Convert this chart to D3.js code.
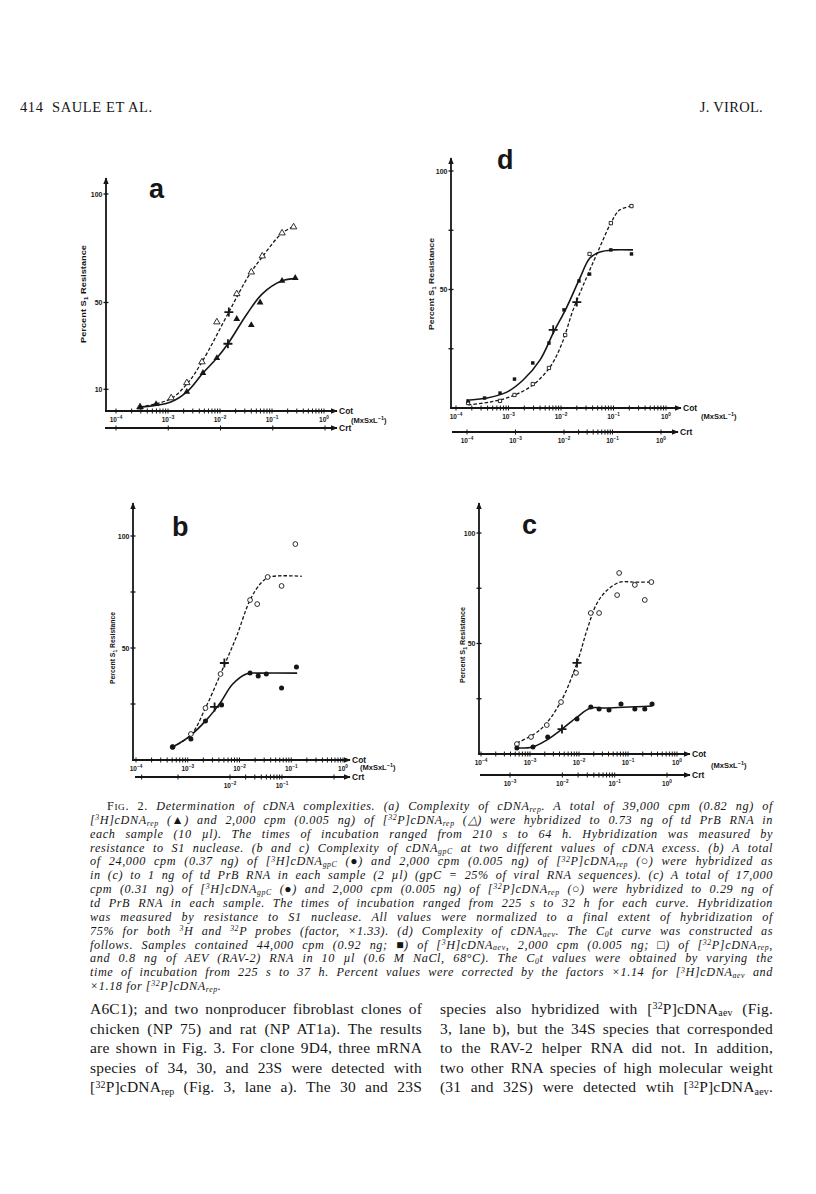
<!DOCTYPE html>
<html>
<head>
<meta charset="utf-8">
<script src="https://cdn.jsdelivr.net/npm/d3@7"></script>
<style>
  body { margin: 0; background: #fff; }
  svg { display: block; }
</style>
</head>
<body>
<svg id="page" width="816" height="1194"></svg>
<script>
// ---- data (Cot in M x s x L^-1, percent S1 resistance) ----
const cotExponents = [-4, -3, -2, -1, 0];

// panel a : [3H]cDNArep (filled triangles) / [32P]cDNArep (open triangles)
const aFilled = [[2.9e-4,1.8],[5.9e-4,3.2],[2.3e-3,8.8],[4.7e-3,17.5],[8.7e-3,24.4],[0.021,42.4],[0.04,39.6],[0.059,50],[0.156,60],[0.28,61.3]];
const aOpen   = [[2.9e-4,1.8],[1.15e-3,6],[2.3e-3,13],[4.5e-3,22.6],[8.7e-3,41],[0.021,54],[0.04,64],[0.065,71.4],[0.156,82],[0.26,84.8]];
const aSolidCurve  = [[2.9e-4,1.8],[1.1e-3,4],[2.3e-3,8.8],[4.7e-3,17.5],[8.7e-3,24.4],[0.0142,31],[0.033,44.7],[0.065,54],[0.156,60],[0.28,61]];
const aDashedCurve = [[2.9e-4,1.8],[1.1e-3,5.5],[2.3e-3,12.4],[4.5e-3,22.6],[0.0148,45.6],[0.035,62],[0.065,71],[0.156,82],[0.26,85]];
const aHalf = [[0.0142,31],[0.0148,45.6]];

// panel d : [3H]cDNAaev (filled squares) / [32P]cDNArep (open squares)
const dFilled = [[1.7e-4,3],[3.5e-4,4.2],[6.9e-4,6.3],[1.3e-3,12.2],[2.9e-3,19],[5.9e-3,27.4],[0.0114,41.4],[0.022,53.6],[0.035,56.5],[0.089,66.7],[0.22,65]];
const dOpen   = [[1.7e-4,2.1],[6.9e-4,3],[1.3e-3,5.5],[2.9e-3,10.1],[5.9e-3,16.9],[0.012,30.8],[0.035,65],[0.089,78],[0.22,85.2]];
const dSolidCurve  = [[1.85e-4,3.4],[3.9e-4,4.2],[9.3e-4,6.7],[1.9e-3,11.8],[4e-3,20.3],[7.1e-3,31.6],[0.0129,42.6],[0.023,54.9],[0.0355,63.3],[0.055,65.8],[0.098,66.7],[0.235,66.7]];
const dDashedCurve = [[1.7e-4,1.3],[4.4e-4,2.5],[1.2e-3,5.1],[2.9e-3,9.7],[6.2e-3,17.3],[0.0105,27.4],[0.017,41.4],[0.031,55.3],[0.055,67.9],[0.089,78],[0.13,83.5],[0.22,85.2]];
const dHalf = [[7.1e-3,33],[0.02,44.7]];

// panel b : [3H]cDNAgpC (filled circles) / [32P]cDNArep (open circles)
const bFilled = [[5.1e-4,5.8],[1.15e-3,9.4],[2.2e-3,17.4],[4.5e-3,24.6],[0.016,38.8],[0.023,37.5],[0.033,38.4],[0.065,32.1],[0.126,41.5]];
const bOpen   = [[5.1e-4,5.8],[1.15e-3,11.6],[2.2e-3,23.2],[4.3e-3,38.4],[0.016,71.4],[0.022,69.6],[0.035,81.7],[0.065,77.7],[0.12,96.4]];
const bSolidCurve  = [[5.1e-4,5.8],[1.1e-3,10.7],[2.3e-3,17.9],[4.2e-3,25.4],[7.4e-3,33.9],[0.0135,38.4],[0.024,38.8],[0.13,38.8]];
const bDashedCurve = [[5.1e-4,5.8],[1.15e-3,11.2],[2.2e-3,23.2],[4.6e-3,40],[8.7e-3,55],[0.016,71.4],[0.026,79],[0.038,81.7],[0.16,82]];
const bHalf = [[3.3e-3,23.7],[5.1e-3,43.3]];

// panel c : [3H]cDNAgpC (filled circles) / [32P]cDNArep (open circles)
const cFilled = [[5.4e-4,2.7],[1.15e-3,3.2],[2.3e-3,7.7],[9.1e-3,15.8],[0.0174,21.3],[0.0257,20.4],[0.041,19.9],[0.072,22.6],[0.138,20.4],[0.22,20.4],[0.31,22.6]];
const cOpen   = [[5.4e-4,4.5],[1.05e-3,7.7],[2.2e-3,13.1],[4.3e-3,23.5],[8.7e-3,36.7],[0.0174,63.8],[0.0257,63.8],[0.06,71.9],[0.066,81.9],[0.138,76.5],[0.22,69.7],[0.3,77.8]];
const cSolidCurve  = [[5.4e-4,2.7],[1.15e-3,3.2],[2.2e-3,6.3],[4.5e-3,11.3],[9.1e-3,16.7],[0.0174,20.8],[0.036,20.8],[0.31,21.7]];
const cDashedCurve = [[5.4e-4,5],[1.6e-3,10.9],[4.1e-3,23],[9.1e-3,41.2],[0.0145,56],[0.023,68],[0.037,74],[0.069,77.8],[0.126,77.8],[0.3,77.8]];
const cHalf = [[4.5e-3,11.3],[9.1e-3,41.2]];

// Crt axis ticks / labels
const crtDense = [2e-2,3e-2,4e-2,5e-2,6e-2,7e-2,8e-2,9e-2];
const crtTicksA = [1e-4,1e-3,1e-2,1e-1,1];
const crtTicksD = [1e-4,1e-3,1e-2,...crtDense,1e-1,1];
const crtTicksB = [2e-4,1e-3,1e-2,...crtDense,1e-1,1];
const crtTicksC = [1e-3,1e-2,...crtDense,1e-1,1];
const crtLabelsA = [];
const crtLabelsD = [-4,-3,-2,-1,0];
const crtLabelsB = [-2,-1];
const crtLabelsC = [-3,-2,-1,0];

// text
const headerLeft = '414  SAULE ET AL.';
const headerRight = 'J. VIROL.';
const captionLines = [
  '~{F}#{IG}~{. 2.} Determination of cDNA complexities. (a) Complexity of cDNA_{rep}. A total of 39,000 cpm (0.82 ng) of',
  '[^{3}H]cDNA_{rep} (▲) and 2,000 cpm (0.005 ng) of [^{32}P]cDNA_{rep} (△) were hybridized to 0.73 ng of td PrB RNA in',
  'each sample (10 µl). The times of incubation ranged from 210 s to 64 h. Hybridization was measured by',
  'resistance to S1 nuclease. (b and c) Complexity of cDNA_{gpC} at two different values of cDNA excess. (b) A total',
  'of 24,000 cpm (0.37 ng) of [^{3}H]cDNA_{gpC} (●) and 2,000 cpm (0.005 ng) of [^{32}P]cDNA_{rep} (○) were hybridized as',
  'in (c) to 1 ng of td PrB RNA in each sample (2 µl) (gpC = 25% of viral RNA sequences). (c) A total of 17,000',
  'cpm (0.31 ng) of [^{3}H]cDNA_{gpC} (●) and 2,000 cpm (0.005 ng) of [^{32}P]cDNA_{rep} (○) were hybridized to 0.29 ng of',
  'td PrB RNA in each sample. The times of incubation ranged from 225 s to 32 h for each curve. Hybridization',
  'was measured by resistance to S1 nuclease. All values were normalized to a final extent of hybridization of',
  '75% for both ^{3}H and ^{32}P probes (factor, ×1.33). (d) Complexity of cDNA_{aev}. The C_{0}t curve was constructed as',
  'follows. Samples contained 44,000 cpm (0.92 ng; ■) of [^{3}H]cDNA_{aev}, 2,000 cpm (0.005 ng; □) of [^{32}P]cDNA_{rep},',
  'and 0.8 ng of AEV (RAV-2) RNA in 10 µl (0.6 M NaCl, 68°C). The C_{0}t values were obtained by varying the',
  'time of incubation from 225 s to 37 h. Percent values were corrected by the factors ×1.14 for [^{3}H]cDNA_{aev} and',
  '×1.18 for [^{32}P]cDNA_{rep}.'
];
const bodyLeft = [
  'A6C1); and two nonproducer fibroblast clones of',
  'chicken (NP 75) and rat (NP AT1a). The results',
  'are shown in Fig. 3. For clone 9D4, three mRNA',
  'species of 34, 30, and 23S were detected with',
  '[^{32}P]cDNA_{rep} (Fig. 3, lane a). The 30 and 23S'
];
const bodyRight = [
  'species also hybridized with [^{32}P]cDNA_{aev} (Fig.',
  '3, lane b), but the 34S species that corresponded',
  'to the RAV-2 helper RNA did not. In addition,',
  'two other RNA species of high molecular weight',
  '(31 and 32S) were detected wtih [^{32}P]cDNA_{aev}.'
];

// ---- drawing ----
const ink = '#161616';
const sans = 'Liberation Sans, Arial, sans-serif';
const serif = 'Liberation Serif, Times New Roman, serif';

const svg = d3.select('#page');
svg.append('rect').attr('width', 816).attr('height', 1194).attr('fill', '#fff');

const defs = svg.append('defs');
defs.append('marker')
  .attr('id', 'arrow')
  .attr('viewBox', '0 0 10 10')
  .attr('refX', 9).attr('refY', 5)
  .attr('markerWidth', 7).attr('markerHeight', 7)
  .attr('markerUnits', 'userSpaceOnUse')
  .attr('orient', 'auto')
  .append('path').attr('d', 'M0,1L10,5L0,9Z').attr('fill', ink);

// rich text: _{sub} ^{sup} ~{roman} #{roman small}
function richText(sel, str, size) {
  const parts = str.split(/(_\{[^}]*\}|\^\{[^}]*\}|~\{[^}]*\}|#\{[^}]*\})/).filter(s => s.length);
  let shift = 0;
  parts.forEach(s => {
    let target = 0, fs = size, content = s, roman = false;
    if (s.startsWith('_{')) { content = s.slice(2, -1); target = size * 0.16; fs = size * 0.64; }
    else if (s.startsWith('^{')) { content = s.slice(2, -1); target = -size * 0.3; fs = size * 0.64; }
    else if (s.startsWith('~{')) { content = s.slice(2, -1); roman = true; }
    else if (s.startsWith('#{')) { content = s.slice(2, -1); roman = true; fs = size * 0.76; }
    const ts = sel.append('tspan').attr('dy', target - shift).attr('font-size', fs).text(content);
    if (roman) ts.attr('font-style', 'normal');
    shift = target;
  });
}

// justify a line by stretching the word gaps only
function justify(t, width) {
  const nat = t.node().getComputedTextLength();
  const gaps = (t.text().match(/ /g) || []).length;
  if (gaps) t.attr('word-spacing', ((width - nat) / gaps).toFixed(2));
}

function powLabel(g, x, y, e, size) {
  const t = g.append('text').attr('x', x).attr('y', y)
    .attr('text-anchor', 'middle')
    .attr('font-family', sans).attr('font-weight', 'bold')
    .attr('font-size', size).attr('fill', ink);
  t.append('tspan').text('10');
  t.append('tspan').attr('dy', -3).attr('font-size', size * 0.72).text(e === 0 ? '0' : '\u2212' + Math.abs(e));
}

function drawPanel(p) {
  const g = svg.append('g');
  const x = d3.scaleLog().domain([1e-4, 1]).range([p.cot0, p.cot1]);
  const y = d3.scaleLinear().domain([0, 100]).range([p.y0, p.y100]);
  const xc = d3.scaleLog().domain([1e-4, 1]).range([p.crt0, p.crt1]);

  // y axis
  g.append('line')
    .attr('x1', p.ax).attr('x2', p.ax).attr('y1', p.y0 + 1).attr('y2', p.yTop)
    .attr('stroke', ink).attr('stroke-width', 1.8).attr('marker-end', 'url(#arrow)');
  g.selectAll('.ytick').data(p.yTicks).join('line')
    .attr('x1', p.ax - 2.5).attr('x2', p.ax + 2.5)
    .attr('y1', d => y(d)).attr('y2', d => y(d))
    .attr('stroke', ink).attr('stroke-width', 1.3);
  g.selectAll('.ylab').data(p.yLabels).join('text')
    .attr('x', p.ax - 3.5).attr('y', d => y(d) + 2.5)
    .attr('text-anchor', 'end')
    .attr('font-family', sans).attr('font-weight', 'bold').attr('font-size', 7).attr('fill', ink)
    .text(d => d);

  // Cot axis
  g.append('line')
    .attr('x1', p.ax - 1).attr('x2', p.cotEnd).attr('y1', p.y0).attr('y2', p.y0)
    .attr('stroke', ink).attr('stroke-width', 1.8).attr('marker-end', 'url(#arrow)');
  g.selectAll('.xtick').data(x.ticks()).join('line')
    .attr('x1', d => x(d)).attr('x2', d => x(d))
    .attr('y1', p.y0 - 2.5).attr('y2', p.y0 + 2.5)
    .attr('stroke', ink).attr('stroke-width', 1);
  cotExponents.forEach(e => powLabel(g, x(Math.pow(10, e)), p.y0 + 10.5, e, 6.5));
  g.append('text').attr('x', p.cotEnd + 2).attr('y', p.y0 + 3)
    .attr('font-family', sans).attr('font-weight', 'bold').attr('font-size', 8.5).attr('fill', ink)
    .text('Cot');
  const u = g.append('text').attr('x', p.unitsX).attr('y', p.unitsY)
    .attr('font-family', sans).attr('font-weight', 'bold').attr('font-size', 7.5).attr('fill', ink);
  u.append('tspan').text('(MxSxL');
  u.append('tspan').attr('dy', -3).attr('font-size', 5.5).text('\u22121');
  u.append('tspan').attr('dy', 3).text(')');

  // Crt axis
  g.append('line')
    .attr('x1', p.crtStart).attr('x2', p.crtEnd).attr('y1', p.crtY).attr('y2', p.crtY)
    .attr('stroke', ink).attr('stroke-width', 1.8).attr('marker-end', 'url(#arrow)');
  g.selectAll('.ctick').data(p.crtTicks).join('line')
    .attr('x1', d => xc(d)).attr('x2', d => xc(d))
    .attr('y1', p.crtY - 2.5).attr('y2', p.crtY + 2.5)
    .attr('stroke', ink).attr('stroke-width', 1);
  p.crtLabels.forEach(e => powLabel(g, xc(Math.pow(10, e)), p.crtY + 10.5, e, 6.5));
  g.append('text').attr('x', p.crtEnd + 2).attr('y', p.crtY + 3)
    .attr('font-family', sans).attr('font-weight', 'bold').attr('font-size', 8.5).attr('fill', ink)
    .text('Crt');

  // y title
  const tt = g.append('text')
    .attr('transform', `translate(${p.titleX},${p.titleY}) rotate(-90)`)
    .attr('text-anchor', 'middle')
    .attr('font-family', sans).attr('font-weight', 'bold').attr('font-size', 7.5).attr('fill', ink)
    .attr('textLength', p.titleLen).attr('lengthAdjust', 'spacingAndGlyphs');
  tt.append('tspan').text('Percent  S');
  tt.append('tspan').attr('dy', 2).attr('font-size', 5.5).text('1');
  tt.append('tspan').attr('dy', -2).text(' Resistance');

  // curves
  const line = d3.line().x(d => x(d[0])).y(d => y(d[1])).curve(d3.curveCatmullRom.alpha(0.5));
  g.append('path').datum(p.dashedCurve).attr('d', line)
    .attr('fill', 'none').attr('stroke', ink).attr('stroke-width', 1.3).attr('stroke-dasharray', '3.5,2');
  g.append('path').datum(p.solidCurve).attr('d', line)
    .attr('fill', 'none').attr('stroke', ink).attr('stroke-width', 1.6);

  // points
  const symFilled = d3.symbol().type(p.shape).size(p.size);
  const symOpen = d3.symbol().type(p.shape).size(p.size * 0.9);
  g.selectAll('.open').data(p.open).join('path')
    .attr('transform', d => `translate(${x(d[0])},${y(d[1])})`)
    .attr('d', symOpen)
    .attr('fill', '#fff').attr('stroke', ink).attr('stroke-width', 0.9);
  g.selectAll('.filled').data(p.filled).join('path')
    .attr('transform', d => `translate(${x(d[0])},${y(d[1])})`)
    .attr('d', symFilled)
    .attr('fill', ink);

  // half-Cot crosses
  g.selectAll('.half').data(p.half).join('path')
    .attr('transform', d => `translate(${x(d[0])},${y(d[1])})`)
    .attr('d', 'M-4.5,0H4.5M0,-4.5V4.5')
    .attr('stroke', ink).attr('stroke-width', 1.8);

  // panel letter
  g.append('text').attr('x', p.letterX).attr('y', p.letterY)
    .attr('font-family', sans).attr('font-weight', 'bold').attr('font-size', 27).attr('fill', ink)
    .text(p.letter);
}

drawPanel({
  letter: 'a', letterX: 149, letterY: 198,
  ax: 106, y0: 411, y100: 194, yTop: 178,
  cot0: 116, cot1: 324, cotEnd: 337,
  crtY: 428, crtStart: 105, crtEnd: 337, crt0: 116, crt1: 325,
  yTicks: [10, 50, 100], yLabels: [10, 50, 100],
  crtTicks: crtTicksA, crtLabels: crtLabelsA,
  titleX: 86, titleY: 294, titleLen: 98, unitsX: 351, unitsY: 423,
  shape: d3.symbolTriangle, size: 20,
  filled: aFilled, open: aOpen, solidCurve: aSolidCurve, dashedCurve: aDashedCurve, half: aHalf
});

drawPanel({
  letter: 'd', letterX: 497, letterY: 169,
  ax: 451, y0: 408, y100: 171, yTop: 158,
  cot0: 456, cot1: 666, cotEnd: 681,
  crtY: 432, crtStart: 452, crtEnd: 678, crt0: 467, crt1: 661,
  yTicks: [25, 50, 75, 100], yLabels: [50, 100],
  crtTicks: crtTicksD, crtLabels: crtLabelsD,
  titleX: 434, titleY: 284, titleLen: 92, unitsX: 701, unitsY: 419,
  shape: d3.symbolSquare, size: 12,
  filled: dFilled, open: dOpen, solidCurve: dSolidCurve, dashedCurve: dDashedCurve, half: dHalf
});

drawPanel({
  letter: 'b', letterX: 172, letterY: 536,
  ax: 133, y0: 760, y100: 536, yTop: 503,
  cot0: 136, cot1: 343, cotEnd: 350,
  crtY: 777, crtStart: 135, crtEnd: 350, crt0: 126, crt1: 334,
  yTicks: [25, 50, 75, 100], yLabels: [50, 100],
  crtTicks: crtTicksB, crtLabels: crtLabelsB,
  titleX: 115, titleY: 648, titleLen: 72, unitsX: 360, unitsY: 770,
  shape: d3.symbolCircle, size: 20,
  filled: bFilled, open: bOpen, solidCurve: bSolidCurve, dashedCurve: bDashedCurve, half: bHalf
});

drawPanel({
  letter: 'c', letterX: 522, letterY: 534,
  ax: 479, y0: 754, y100: 533, yTop: 503,
  cot0: 481, cot1: 677, cotEnd: 690,
  crtY: 775, crtStart: 480, crtEnd: 690, crt0: 457.7, crt1: 667,
  yTicks: [25, 50, 75, 100], yLabels: [50, 100],
  crtTicks: crtTicksC, crtLabels: crtLabelsC,
  titleX: 465, titleY: 645, titleLen: 76, unitsX: 711, unitsY: 768,
  shape: d3.symbolCircle, size: 20,
  filled: cFilled, open: cOpen, solidCurve: cSolidCurve, dashedCurve: cDashedCurve, half: cHalf
});

// header
svg.append('text').attr('x', 20).attr('y', 112)
  .attr('font-family', serif).attr('font-size', 14.5).attr('letter-spacing', 0.6).attr('fill', ink)
  .style('white-space', 'pre')
  .text(headerLeft);
svg.append('text').attr('x', 763).attr('y', 112).attr('text-anchor', 'end')
  .attr('font-family', serif).attr('font-size', 14.5).attr('letter-spacing', 0.3).attr('fill', ink)
  .text(headerRight);

// caption
captionLines.forEach((ln, i) => {
  const x0 = i === 0 ? 107 : 90;
  const t = svg.append('text').attr('x', x0).attr('y', 810 + i * 13.85)
    .attr('font-family', serif).attr('font-style', 'italic').attr('font-size', 12.2)
    .attr('letter-spacing', 0.6).attr('fill', ink);
  richText(t, ln, 12.2);
  if (i < captionLines.length - 1) justify(t, 773 - x0);
});

// body text, two columns
[[bodyLeft, 90, 422], [bodyRight, 440, 773]].forEach(([lines, x0, x1]) => {
  lines.forEach((ln, i) => {
    const t = svg.append('text').attr('x', x0).attr('y', 1014 + i * 19.6)
      .attr('font-family', serif).attr('font-size', 15.5)
      .attr('letter-spacing', 0.2).attr('fill', ink);
    richText(t, ln, 15.5);
    justify(t, x1 - x0);
  });
});
</script>
</body>
</html>
